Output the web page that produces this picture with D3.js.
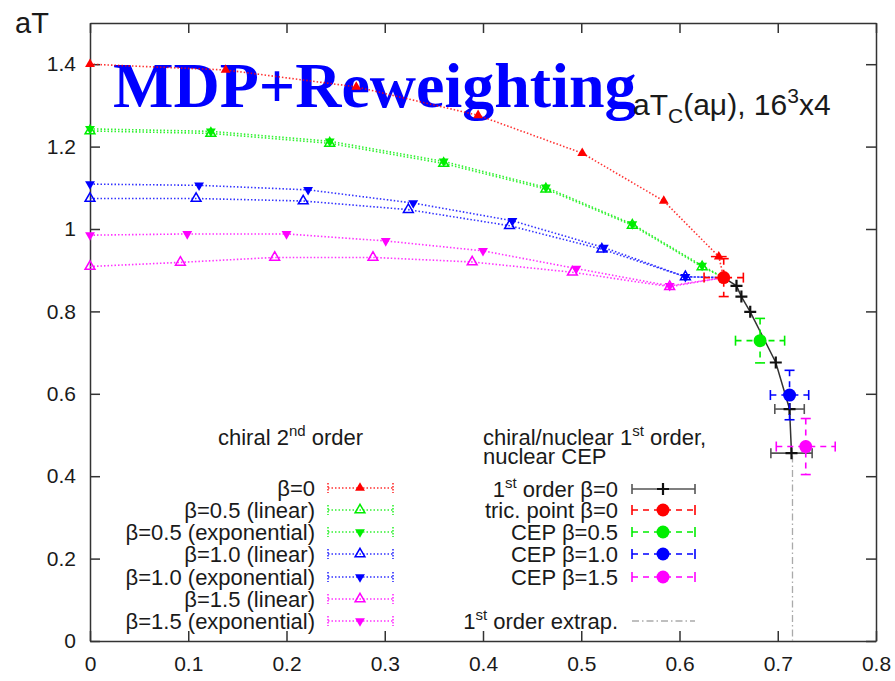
<!DOCTYPE html>
<html>
<head>
<meta charset="utf-8">
<script src="https://cdn.jsdelivr.net/npm/d3@7"></script>
<style>
  body { margin: 0; background: #fff; }
  svg text { font-family: "Liberation Sans", Arial, sans-serif; fill: #1a1a1a; }
</style>
</head>
<body>
<svg id="chart" width="895" height="681"></svg>
<script>
// Data: aT_c as a function of a*mu
const xTicks = [0, 0.1, 0.2, 0.3, 0.4, 0.5, 0.6, 0.7, 0.8];
const yTicks = [0, 0.2, 0.4, 0.6, 0.8, 1.0, 1.2, 1.4];

const muBeta0 = [0, 0.138, 0.271, 0.395, 0.501, 0.584, 0.640];
const tBeta0 = [1.400, 1.386, 1.345, 1.276, 1.184, 1.068, 0.933];
const xerrBeta0 = [0, 0, 0, 0, 0, 0, 0.008];

const muBeta05 = [0, 0.123, 0.244, 0.360, 0.464, 0.552, 0.623];
const tBeta05Lin = [1.238, 1.232, 1.208, 1.159, 1.097, 1.009, 0.908];
const tBeta05Exp = [1.243, 1.237, 1.213, 1.164, 1.101, 1.012, 0.911];

const muBeta10Lin = [0, 0.108, 0.217, 0.324, 0.427, 0.521, 0.606];
const tBeta10Lin = [1.074, 1.074, 1.068, 1.047, 1.008, 0.951, 0.884];
const muBeta10Exp = [0, 0.111, 0.222, 0.329, 0.430, 0.523, 0.606];
const tBeta10Exp = [1.109, 1.106, 1.095, 1.063, 1.020, 0.955, 0.884];

const muBeta15Lin = [0, 0.092, 0.188, 0.288, 0.389, 0.491, 0.590];
const tBeta15Lin = [0.909, 0.919, 0.931, 0.931, 0.920, 0.895, 0.860];
const muBeta15Exp = [0, 0.099, 0.200, 0.301, 0.400, 0.495, 0.590];
const tBeta15Exp = [0.985, 0.988, 0.988, 0.971, 0.947, 0.904, 0.862];

// first order line, beta=0
const muFirst = [0.658, 0.663, 0.672, 0.698, 0.712, 0.714];
const tFirst = [0.862, 0.836, 0.799, 0.676, 0.563, 0.456];
const xerrFirst = [0, 0, 0, 0, 0.015, 0.021];

// tricritical point and critical end points
const cepLabels = ["tric. point β=0", "CEP β=0.5", "CEP β=1.0", "CEP β=1.5"];
const cepColors = ["#ff0000", "#00ee00", "#0000ff", "#ff00ff"];
const cepMu = [0.645, 0.682, 0.712, 0.7285];
const cepT = [0.882, 0.729, 0.597, 0.472];
const cepMuErr = [0.020, 0.025, 0.0195, 0.030];
const cepTErr = [0.046, 0.054, 0.060, 0.068];

const extrapMu = 0.715;
const extrapT = [0.45, 0];

const secondOrder = [
    {label: "β=0", color: "#ff0000", shape: "up-filled", mu: muBeta0, t: tBeta0, xerr: xerrBeta0},
    {label: "β=0.5 (linear)", color: "#00ee00", shape: "up-open", mu: muBeta05, t: tBeta05Lin},
    {label: "β=0.5 (exponential)", color: "#00ee00", shape: "down-filled", mu: muBeta05, t: tBeta05Exp},
    {label: "β=1.0 (linear)", color: "#0000ff", shape: "up-open", mu: muBeta10Lin, t: tBeta10Lin},
    {label: "β=1.0 (exponential)", color: "#0000ff", shape: "down-filled", mu: muBeta10Exp, t: tBeta10Exp},
    {label: "β=1.5 (linear)", color: "#ff00ff", shape: "up-open", mu: muBeta15Lin, t: tBeta15Lin},
    {label: "β=1.5 (exponential)", color: "#ff00ff", shape: "down-filled", mu: muBeta15Exp, t: tBeta15Exp}
];

const svg = d3.select("#chart");
const plotLeft = 90, plotRight = 876, plotTop = 23, plotBottom = 641;

const x = d3.scaleLinear().domain([0, 0.8]).range([plotLeft, plotRight]);
const y = d3.scaleLinear().domain([0, 1.5]).range([plotBottom, plotTop]);
const fmt = d3.format("~g");

// axes, ticks pointing inwards on all four sides
const axisStyle = g => {
    g.selectAll("path").attr("stroke", "#333").attr("stroke-width", 1.5);
    g.selectAll("line").attr("stroke", "#333").attr("stroke-width", 1.5);
    g.selectAll("text").attr("font-size", 21).attr("fill", "#1a1a1a")
        .attr("font-family", "Liberation Sans, Arial, sans-serif");
};

svg.append("g").attr("transform", `translate(0,${plotBottom})`)
   .call(d3.axisBottom(x).tickValues(xTicks).tickFormat(fmt).tickSizeInner(-10).tickSizeOuter(0).tickPadding(15))
   .call(axisStyle);
svg.append("g").attr("transform", `translate(0,${plotTop})`)
   .call(d3.axisTop(x).tickValues(xTicks).tickFormat("").tickSizeInner(-10).tickSizeOuter(0))
   .call(axisStyle);
svg.append("g").attr("transform", `translate(${plotLeft},0)`)
   .call(d3.axisLeft(y).tickValues(yTicks).tickFormat(fmt).tickSizeInner(-10).tickSizeOuter(0).tickPadding(14))
   .call(axisStyle);
svg.append("g").attr("transform", `translate(${plotRight},0)`)
   .call(d3.axisRight(y).tickValues(yTicks).tickFormat("").tickSizeInner(-10).tickSizeOuter(0))
   .call(axisStyle);

svg.append("text").attr("x", 15).attr("y", 33).attr("font-size", 29).text("aT");

// big overlay title
svg.append("text").attr("x", 113).attr("y", 107)
   .style("font-family", "'Liberation Serif', 'Times New Roman', serif")
   .style("fill", "#0000ff").attr("font-weight", "bold").attr("font-size", 64)
   .text("MDP+Reweighting");

// plot key title
const keyTitle = svg.append("text").attr("x", 633).attr("y", 115).attr("font-size", 30);
keyTitle.append("tspan").text("aT");
keyTitle.append("tspan").attr("font-size", 21).attr("dy", 8).text("C");
keyTitle.append("tspan").attr("dy", -8).text("(aμ), 16");
keyTitle.append("tspan").attr("font-size", 21).attr("dy", -12).text("3");
keyTitle.append("tspan").attr("dy", 12).text("x4");

// marker drawing
function marker(g, shape, color, cx, cy) {
    const sym = d3.symbol().type(d3.symbolTriangle).size(42);
    const p = g.append("path").attr("d", sym())
        .attr("transform", `translate(${cx},${cy}) rotate(${shape.startsWith("down") ? 180 : 0})`);
    if (shape.endsWith("open")) {
        p.attr("fill", "none").attr("stroke", color).attr("stroke-width", 1.5);
    } else {
        p.attr("fill", color);
    }
}

const line = d3.line().x(d => x(d[0])).y(d => y(d[1]));
const tric = [cepMu[0], cepT[0]];

const plot = svg.append("g");

// second order series: dotted lines ending in the tricritical point
secondOrder.forEach(s => {
    const pts = s.mu.map((m, i) => [m, s.t[i]]);
    plot.append("path").datum(pts.concat([tric]))
        .attr("d", line).attr("fill", "none")
        .attr("stroke", s.color).attr("stroke-width", 1.6)
        .attr("stroke-dasharray", "1.5,2").attr("opacity", 0.8);
    pts.forEach((p, i) => {
        if (s.xerr && s.xerr[i] > 0) {
            plot.append("line")
                .attr("x1", x(p[0] - s.xerr[i])).attr("x2", x(p[0] + s.xerr[i]))
                .attr("y1", y(p[1])).attr("y2", y(p[1]))
                .attr("stroke", s.color).attr("stroke-width", 1.5);
        }
        marker(plot, s.shape, s.color, x(p[0]), y(p[1]));
    });
});

// first order extrapolation
plot.append("line")
    .attr("x1", x(extrapMu)).attr("x2", x(extrapMu))
    .attr("y1", y(extrapT[0])).attr("y2", y(extrapT[1]))
    .attr("stroke", "#aaa").attr("stroke-width", 1.3).attr("stroke-dasharray", "7,3,1.5,3");

// first order line from the tricritical point
const firstPts = muFirst.map((m, i) => [m, tFirst[i]]);
plot.append("path").datum([tric].concat(firstPts))
    .attr("d", line).attr("fill", "none").attr("stroke", "#333").attr("stroke-width", 1.5);

function cross(g, cx, cy, color) {
    g.append("path").attr("d", `M${cx - 6},${cy}H${cx + 6}M${cx},${cy - 6}V${cy + 6}`)
        .attr("stroke", color).attr("stroke-width", 2.2);
}

function hCapBar(g, x1, x2, cy, color, dash, h) {
    g.append("line").attr("x1", x1).attr("x2", x2).attr("y1", cy).attr("y2", cy)
        .attr("stroke", color).attr("stroke-width", 1.6).attr("stroke-dasharray", dash);
    [x1, x2].forEach(xx => g.append("line").attr("x1", xx).attr("x2", xx)
        .attr("y1", cy - h).attr("y2", cy + h).attr("stroke", color).attr("stroke-width", 1.6));
}

function vCapBar(g, cx, y1, y2, color, dash, w) {
    g.append("line").attr("x1", cx).attr("x2", cx).attr("y1", y1).attr("y2", y2)
        .attr("stroke", color).attr("stroke-width", 1.6).attr("stroke-dasharray", dash);
    [y1, y2].forEach(yy => g.append("line").attr("x1", cx - w).attr("x2", cx + w)
        .attr("y1", yy).attr("y2", yy).attr("stroke", color).attr("stroke-width", 1.6));
}

firstPts.forEach((p, i) => {
    if (xerrFirst[i] > 0) {
        hCapBar(plot, x(p[0] - xerrFirst[i]), x(p[0] + xerrFirst[i]), y(p[1]), "#555", null, 5);
    }
    cross(plot, x(p[0]), y(p[1]), "#111");
});

// tricritical point and CEPs with dashed error bars
cepMu.forEach((m, i) => {
    const cx = x(m), cy = y(cepT[i]);
    hCapBar(plot, x(m - cepMuErr[i]), x(m + cepMuErr[i]), cy, cepColors[i], "6,5", 5);
    vCapBar(plot, cx, y(cepT[i] + cepTErr[i]), y(cepT[i] - cepTErr[i]), cepColors[i], "6,5", 5);
    plot.append("circle").attr("cx", cx).attr("cy", cy).attr("r", 6.5).attr("fill", cepColors[i]);
});

// legend, left block
const legL = svg.append("g");
const tl = legL.append("text").attr("x", 218).attr("y", 445).attr("font-size", 22);
tl.append("tspan").text("chiral 2");
tl.append("tspan").attr("font-size", 15).attr("dy", -9).text("nd");
tl.append("tspan").attr("dy", 9).text(" order");

const rowsL = [488, 510, 532, 554, 577, 599, 621];
secondOrder.forEach((s, i) => {
    const ry = rowsL[i];
    legL.append("text").attr("x", 315).attr("y", ry + 8).attr("text-anchor", "end")
        .attr("font-size", 22).text(s.label);
    legL.append("line").attr("x1", 328).attr("x2", 393).attr("y1", ry).attr("y2", ry)
        .attr("stroke", s.color).attr("stroke-width", 1.5).attr("stroke-dasharray", "1.5,2").attr("opacity", 0.8);
    [328, 393].forEach(xx => legL.append("line").attr("x1", xx).attr("x2", xx)
        .attr("y1", ry - 5).attr("y2", ry + 5).attr("stroke", s.color)
        .attr("stroke-width", 1.3).attr("stroke-dasharray", "1.5,1.5"));
    marker(legL, s.shape, s.color, 360, ry);
});

// legend, right block
const legR = svg.append("g");
const tr1 = legR.append("text").attr("x", 483).attr("y", 445).attr("font-size", 22);
tr1.append("tspan").text("chiral/nuclear 1");
tr1.append("tspan").attr("font-size", 15).attr("dy", -9).text("st");
tr1.append("tspan").attr("dy", 9).text(" order,");
legR.append("text").attr("x", 483).attr("y", 464).attr("font-size", 22).text("nuclear CEP");

const rowsR = [489, 510, 532, 554, 577];
const first = legR.append("text").attr("x", 618).attr("y", rowsR[0] + 8)
    .attr("text-anchor", "end").attr("font-size", 22);
first.append("tspan").text("1");
first.append("tspan").attr("font-size", 15).attr("dy", -9).text("st");
first.append("tspan").attr("dy", 9).text(" order β=0");
hCapBar(legR, 632, 695, rowsR[0], "#555", null, 5);
cross(legR, 663, rowsR[0], "#111");

cepLabels.forEach((lab, i) => {
    const ry = rowsR[i + 1];
    legR.append("text").attr("x", 618).attr("y", ry + 8).attr("text-anchor", "end")
        .attr("font-size", 22).text(lab);
    hCapBar(legR, 632, 695, ry, cepColors[i], "6,5", 5);
    legR.append("circle").attr("cx", 663).attr("cy", ry).attr("r", 6.5).attr("fill", cepColors[i]);
});

const ex = legR.append("text").attr("x", 618).attr("y", 629).attr("text-anchor", "end").attr("font-size", 22);
ex.append("tspan").text("1");
ex.append("tspan").attr("font-size", 15).attr("dy", -9).text("st");
ex.append("tspan").attr("dy", 9).text(" order extrap.");
legR.append("line").attr("x1", 632).attr("x2", 695).attr("y1", 621).attr("y2", 621)
    .attr("stroke", "#aaa").attr("stroke-width", 1.3).attr("stroke-dasharray", "7,3,1.5,3");
</script>
</body>
</html>
